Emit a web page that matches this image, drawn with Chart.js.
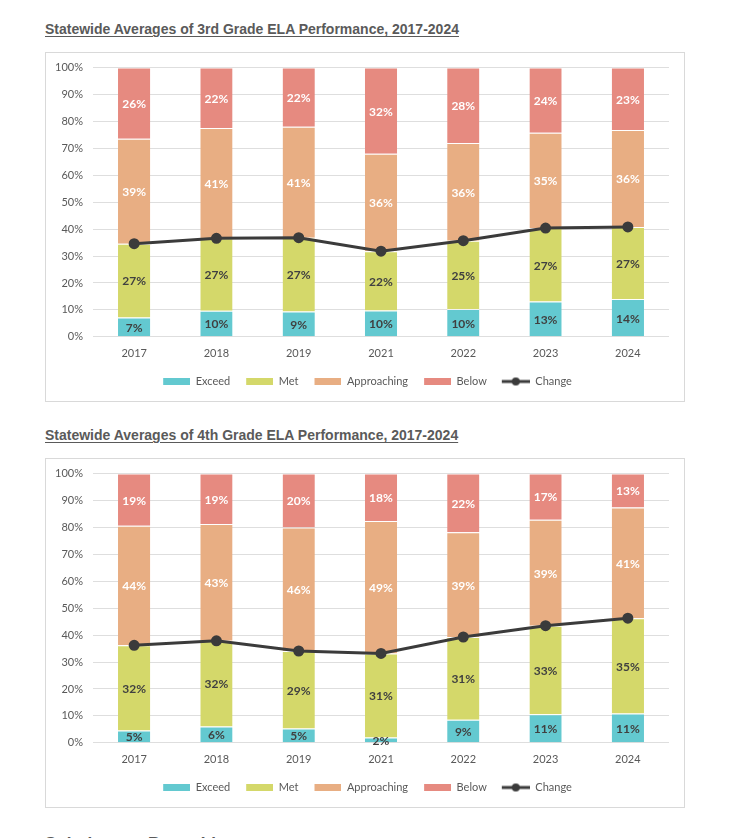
<!DOCTYPE html>
<html>
<head>
<meta charset="utf-8">
<script src="https://cdn.jsdelivr.net/npm/chart.js@4.4.1/dist/chart.umd.min.js"></script>
<style>
  html, body { margin: 0; padding: 0; background: #fff; }
  body { width: 738px; height: 838px; position: relative; overflow: hidden; }
  .title {
    position: absolute; left: 45px; margin: 0;
    font-family: "Liberation Sans", Arial, sans-serif; font-weight: bold; font-size: 14px;
    color: #5a5a5a; text-decoration: underline; text-underline-offset: 2px;
  }
  .box {
    position: absolute; left: 45px; width: 638px; height: 348px;
    border: 1px solid #d9d9d9;
  }
  .box canvas { display: block; margin-top: -2px; }
  .next {
    position: absolute; left: 45px; top: 834px; margin: 0;
    font-family: "Liberation Sans", Arial, sans-serif; font-weight: bold; font-size: 17px; color: #5a5a5a;
  }
</style>
</head>
<body>
<h3 class="title" style="top:21px">Statewide Averages of 3rd Grade ELA Performance, 2017-2024</h3>
<div class="box" style="top:52px"><canvas id="grade3"></canvas></div>
<h3 class="title" style="top:427px">Statewide Averages of 4th Grade ELA Performance, 2017-2024</h3>
<div class="box" style="top:458px"><canvas id="grade4"></canvas></div>
<h3 class="next">Solutions to Boost Literacy</h3>
<script>
const years = ['2017', '2018', '2019', '2021', '2022', '2023', '2024'];
const yTicks = [0, 10, 20, 30, 40, 50, 60, 70, 80, 90, 100];

// 3rd grade (percent of students)
const g3Exceed = [7.2, 9.7, 9.4, 9.8, 10.3, 13.1, 14.0];
const g3Met = [27.4, 26.9, 27.4, 22.0, 25.4, 27.3, 26.8];
const g3Approaching = [39.0, 41.0, 41.2, 36.2, 36.3, 35.4, 36.0];
const g3Below = [26.4, 22.4, 22.0, 32.0, 28.0, 24.2, 23.2];
const g3Change = [34.6, 36.6, 36.8, 31.8, 35.7, 40.4, 40.8];

// 4th grade
const g4Exceed = [4.6, 6.1, 5.3, 2.0, 8.6, 10.6, 10.9];
const g4Met = [31.6, 31.8, 28.8, 31.2, 30.7, 32.9, 35.4];
const g4Approaching = [44.4, 43.4, 45.9, 49.2, 38.9, 39.4, 41.1];
const g4Below = [19.4, 18.7, 20.0, 17.6, 21.8, 17.1, 12.6];
const g4Change = [36.2, 37.9, 34.1, 33.2, 39.3, 43.5, 46.3];

const colors = {
  exceed: '#63c9d0',
  met: '#d4d86a',
  approaching: '#e8ae83',
  below: '#e68a80',
  change: '#3b3b3b'
};
const fontFamily = 'Lato, "Noto Sans", sans-serif';
const swatchW = 37;

// legend swatches: blank space on the left, mark on the right
function swatch(color) {
  const c = document.createElement('canvas');
  c.width = swatchW; c.height = 7;
  const g = c.getContext('2d');
  g.fillStyle = color;
  g.fillRect(swatchW - 27, 0, 27, 7);
  return c;
}
function lineSwatch(color) {
  const c = document.createElement('canvas');
  c.width = swatchW; c.height = 10;
  const g = c.getContext('2d');
  g.strokeStyle = color; g.lineWidth = 3;
  g.beginPath(); g.moveTo(swatchW - 28, 5); g.lineTo(swatchW, 5); g.stroke();
  g.fillStyle = color;
  g.beginPath(); g.arc(swatchW - 14, 5, 4, 0, Math.PI * 2); g.fill();
  return c;
}

// percent labels centred in each bar segment
const segmentLabels = {
  id: 'segmentLabels',
  afterDatasetsDraw(chart) {
    const ctx = chart.ctx;
    ctx.save();
    ctx.font = 'bold 12px ' + fontFamily;
    ctx.textAlign = 'center';
    ctx.textBaseline = 'middle';
    chart.data.datasets.forEach((ds, i) => {
      if (ds.type === 'line') return;
      const meta = chart.getDatasetMeta(i);
      meta.data.forEach((bar, j) => {
        const p = bar.getProps(['x', 'y', 'base'], true);
        ctx.fillStyle = ds.labelColor;
        ctx.fillText(Math.round(ds.data[j]) + '%', p.x, (p.y + p.base) / 2 + 1);
      });
    });
    ctx.restore();
  }
};

function makeChart(id, exceed, met, approaching, below, change) {
  const bar = (label, data, color, labelColor) => ({
    type: 'bar', label, data, backgroundColor: color, labelColor,
    borderColor: 'rgba(255,255,255,0.6)', borderWidth: { top: 1 },
    stack: 'ela', barPercentage: 0.8, categoryPercentage: 0.49, order: 1
  });
  new Chart(document.getElementById(id), {
    data: {
      labels: years,
      datasets: [
        bar('Exceed', exceed, colors.exceed, '#404040'),
        bar('Met', met, colors.met, '#404040'),
        bar('Approaching', approaching, colors.approaching, '#ffffff'),
        bar('Below', below, colors.below, '#ffffff'),
        {
          type: 'line', label: 'Change', data: change, stack: 'change', order: 0,
          borderColor: colors.change, backgroundColor: colors.change,
          borderWidth: 3, pointRadius: 4, pointHoverRadius: 4, tension: 0
        }
      ]
    },
    options: {
      responsive: false,
      animation: false,
      devicePixelRatio: 1,
      layout: { padding: { top: 3, left: -5, right: 0, bottom: 4 } },
      plugins: {
        tooltip: { enabled: false },
        legend: {
          position: 'bottom',
          labels: {
            usePointStyle: true,
            pointStyleWidth: swatchW,
            boxHeight: 7,
            padding: 6,
            color: '#595959',
            font: { family: fontFamily, size: 11 },
            generateLabels(chart) {
              return chart.data.datasets.map((ds, i) => ({
                text: ds.label,
                datasetIndex: i,
                fontColor: '#595959',
                pointStyle: ds.type === 'line' ? lineSwatch(ds.borderColor) : swatch(ds.backgroundColor),
                lineWidth: 0,
                hidden: false
              }));
            }
          }
        }
      },
      scales: {
        x: {
          stacked: true,
          grid: { display: false, drawTicks: false },
          border: { display: false },
          ticks: { color: '#595959', font: { family: fontFamily, size: 11 }, padding: 10 }
        },
        y: {
          stacked: true,
          min: 0, max: 100,
          afterBuildTicks(scale) { scale.ticks = yTicks.map(v => ({ value: v })); },
          afterFit(scale) { scale.width = 52; },
          grid: { color: '#dedede', lineWidth: 1, drawTicks: false },
          border: { display: false },
          ticks: {
            color: '#595959', font: { family: fontFamily, size: 11 }, padding: 10,
            callback: v => v + '%'
          }
        },
        // empty right axis, only keeps a margin on the right of the plot
        yRight: {
          position: 'right',
          min: 0, max: 100,
          afterFit(scale) { scale.width = 15; },
          grid: { display: false },
          border: { display: false },
          ticks: { display: false }
        }
      }
    },
    plugins: [segmentLabels]
  });
}

function sizeCanvas(id) {
  const c = document.getElementById(id);
  c.width = 638; c.height = 350;
  c.style.width = '638px'; c.style.height = '350px';
}
sizeCanvas('grade3');
sizeCanvas('grade4');
makeChart('grade3', g3Exceed, g3Met, g3Approaching, g3Below, g3Change);
makeChart('grade4', g4Exceed, g4Met, g4Approaching, g4Below, g4Change);
</script>
</body>
</html>
